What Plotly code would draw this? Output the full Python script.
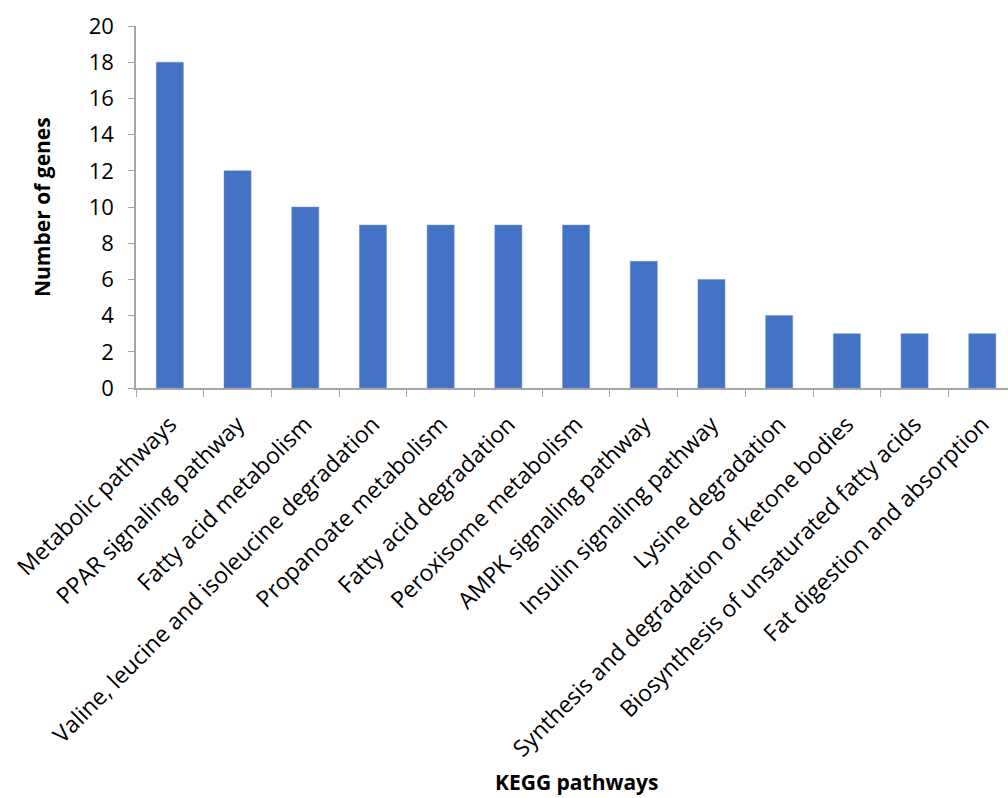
import plotly.graph_objects as go

categories = [
    "Metabolic pathways",
    "PPAR signaling pathway",
    "Fatty acid metabolism",
    "Valine, leucine and isoleucine degradation",
    "Propanoate metabolism",
    "Fatty acid degradation",
    "Peroxisome metabolism",
    "AMPK signaling pathway",
    "Insulin signaling pathway",
    "Lysine degradation",
    "Synthesis and degradation of ketone bodies",
    "Biosynthesis of unsaturated fatty acids",
    "Fat digestion and absorption",
]
genes = [18, 12, 10, 9, 9, 9, 9, 7, 6, 4, 3, 3, 3]
y_ticks = list(range(0, 21, 2))

FONT = "Open Sans"
fig = go.Figure(go.Bar(
    x=categories, y=genes, width=0.4,
    marker=dict(color="#4472C4", line=dict(color="#6a8fd6", width=0.5)),
))

fig.update_layout(
    width=1008, height=798,
    margin=dict(l=136, r=0, t=26, b=410),
    plot_bgcolor="white", paper_bgcolor="white",
    showlegend=False,
    font=dict(family=FONT, size=22, color="black"),
)
fig.update_xaxes(
    range=[-0.5, 12.38],
    tickangle=-45, tickson="boundaries", ticks="outside", ticklen=7,
    tickcolor="#a6a6a6", showline=True, linecolor="#a6a6a6", linewidth=1.5,
    showgrid=False, tickfont=dict(family=FONT, size=23, color="black"),
    ticklabelstandoff=12,
)
fig.update_yaxes(
    range=[0, 20], tickvals=y_ticks, ticks="outside", ticklen=6,
    tickcolor="#a6a6a6", showline=True, linecolor="#a6a6a6", linewidth=1.5,
    showgrid=False, zeroline=False, tickfont=dict(family=FONT, size=22, color="black"),
    ticklabelstandoff=10,
)
fig.add_annotation(text="<b>Number of genes</b>", xref="paper", yref="paper",
                   x=(42 - 136) / 872, y=0.5, xanchor="center", yanchor="middle",
                   showarrow=False, textangle=-90, font=dict(family=FONT, size=21))
fig.add_annotation(text="<b>KEGG pathways</b>", xref="paper", yref="paper",
                   x=(577 - 136) / 872, y=(388 - 782) / 362, xanchor="center", yanchor="middle",
                   showarrow=False, font=dict(family=FONT, size=21))
fig.write_html("out.html")
